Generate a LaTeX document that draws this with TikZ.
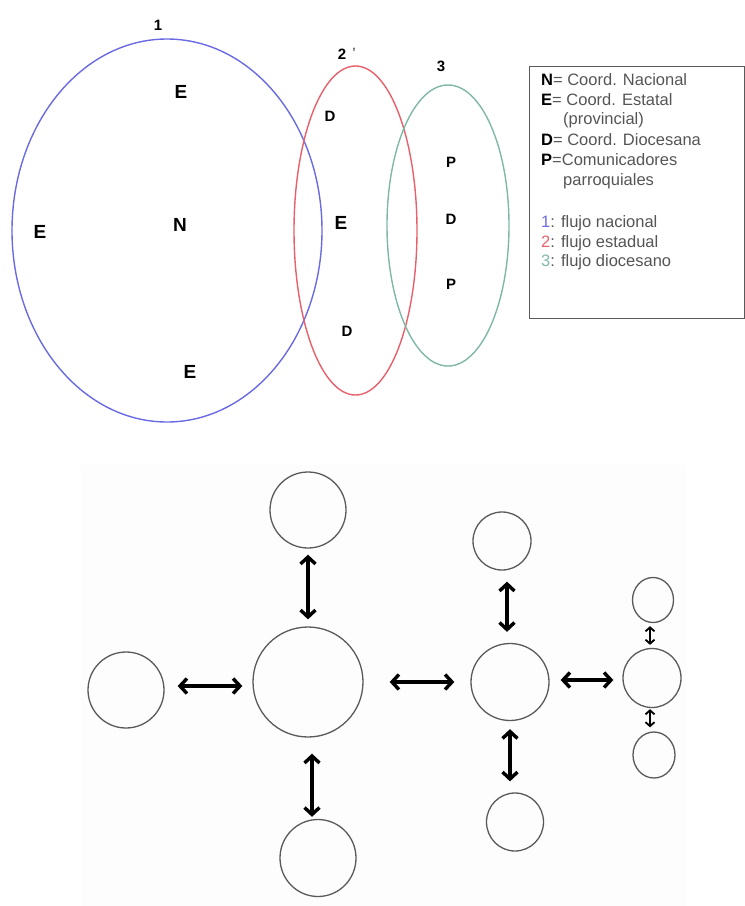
\documentclass[tikz,border=0pt]{standalone}
\usepackage{fontspec}
\setmainfont{Liberation Sans}
\usetikzlibrary{shapes.geometric,arrows.meta}
\definecolor{flujoazul}{HTML}{6A6AE2}
\definecolor{flujorojo}{HTML}{E8606A}
\definecolor{flujoverde}{HTML}{80B8A8}
\definecolor{borde}{HTML}{5A5A5A}
\definecolor{leyenda}{HTML}{555555}
\definecolor{fondo}{HTML}{FDFDFD}

\begin{document}
\begin{tikzpicture}[x=1pt,y=-1pt,
  conj/.style={draw, ellipse, line width=1.4pt, inner sep=0pt},
  grande/.style={inner sep=0pt, font=\fontsize{19}{19}\selectfont\bfseries},
  chica/.style={inner sep=0pt, font=\fontsize{15}{15}\selectfont\bfseries},
  numero/.style={inner sep=0pt, font=\fontsize{15}{15}\selectfont\bfseries},
  ley/.style={anchor=west, inner sep=0pt, text=leyenda, font=\fontsize{16.5}{16.5}\selectfont},
  circ/.style={draw=borde, ellipse, line width=1.3pt, inner sep=0pt},
  flecha/.style={line width=3.4pt, {Straight Barb[length=7pt,width=15pt]}-{Straight Barb[length=7pt,width=15pt]}},
  flechita/.style={line width=1.8pt, {Straight Barb[length=4pt,width=9pt]}-{Straight Barb[length=4pt,width=9pt]}}
]
\useasboundingbox (0,0) rectangle (745,906);

% --- faint backdrop of the lower diagram ---
\fill[fondo] (81,465) rectangle (686,906);

% --- three overlapping flow sets ---
\node[conj, draw=flujoazul, minimum width=310pt, minimum height=383pt] (nac) at (167,230.5) {};
\node[conj, draw=flujorojo, minimum width=123pt, minimum height=329pt] (est) at (355.5,230.5) {};
\node[conj, draw=flujoverde, minimum width=122pt, minimum height=281pt] (dio) at (448,225.5) {};

\node[numero] (n1) at (158,25) {1};
\node[numero] (n2) at (342,54) {2};
\node[inner sep=0pt, text=black!70, font=\fontsize{12}{12}\selectfont\bfseries] (n2t) at (354,52) {'};
\node[numero] (n3) at (441,66) {3};

% letters inside the sets
\node[grande] (e1) at (181,92) {E};
\node[grande] (e2) at (40,232) {E};
\node[grande] (nn) at (180,225) {N};
\node[grande] (e3) at (190,372) {E};
\node[chica] (d1) at (330,116) {D};
\node[grande] (e4) at (341,223) {E};
\node[chica] (d2) at (347,331) {D};
\node[chica] (p1) at (451,162) {P};
\node[chica] (d3) at (451,219) {D};
\node[chica] (p2) at (451,284) {P};

% --- legend ---
\node[draw=borde, line width=1pt, minimum width=215pt, minimum height=252pt, inner sep=0pt] (caja) at (636.5,192) {};
\node[ley] (l1) at (541,80) {\textcolor{black}{\textbf{N}}= Coord. Nacional};
\node[ley] (l2) at (541,100) {\textcolor{black}{\textbf{E}}= Coord. Estatal};
\node[ley] (l3) at (563,120) {(provincial)};
\node[ley] (l4) at (541,140) {\textcolor{black}{\textbf{D}}= Coord. Diocesana};
\node[ley] (l5) at (541,160) {\textcolor{black}{\textbf{P}}=Comunicadores};
\node[ley] (l6) at (563,181) {parroquiales};
\node[ley] (l7) at (541,223) {\textcolor{flujoazul}{1}: flujo nacional};
\node[ley] (l8) at (541,243) {\textcolor{flujorojo}{2}: flujo estadual};
\node[ley] (l9) at (541,262) {\textcolor{flujoverde}{3}: flujo diocesano};

% --- communication network ---
\node[circ, minimum width=76pt, minimum height=76pt] (A) at (308,510) {};
\node[circ, minimum width=110pt, minimum height=110pt] (C) at (308,682) {};
\node[circ, minimum width=76pt, minimum height=76pt] (L) at (126,690) {};
\node[circ, minimum width=76pt, minimum height=77pt] (B) at (318,858) {};

\node[circ, minimum width=58pt, minimum height=58pt] (MT) at (502,541) {};
\node[circ, minimum width=78pt, minimum height=77pt] (M) at (510,682) {};
\node[circ, minimum width=57pt, minimum height=58pt] (MB) at (515,822) {};

\node[circ, minimum width=41pt, minimum height=45pt] (RT) at (653,600) {};
\node[circ, minimum width=58pt, minimum height=59pt] (R) at (652,678) {};
\node[circ, minimum width=42pt, minimum height=46pt] (RB) at (654,755) {};

\draw[flecha] ([shift={(0,6)}]A.south) -- ([shift={(0,-7)}]C.north);
\draw[flecha] ([shift={(13,-4)}]L.east) -- ([shift={(-10,4)}]C.west);
\draw[flecha] ([shift={(4,16)}]C.south) -- ([shift={(-6,-2)}]B.north);
\draw[flecha] ([shift={(26,0)}]C.east) -- ([shift={(-16,0)}]M.west);

\draw[flecha] ([shift={(5,11)}]MT.south) -- ([shift={(-3,-11)}]M.north);
\draw[flecha] ([shift={(0,8)}]M.south) -- ([shift={(-5,-11)}]MB.north);
\draw[flecha] ([shift={(11,-2)}]M.east) -- ([shift={(-9,2)}]R.west);

\draw[flechita] ([shift={(-3,3)}]RT.south) -- ([shift={(-2,-3)}]R.north);
\draw[flechita] ([shift={(-2,1)}]R.south) -- ([shift={(-4,-4)}]RB.north);
\end{tikzpicture}
\end{document}
